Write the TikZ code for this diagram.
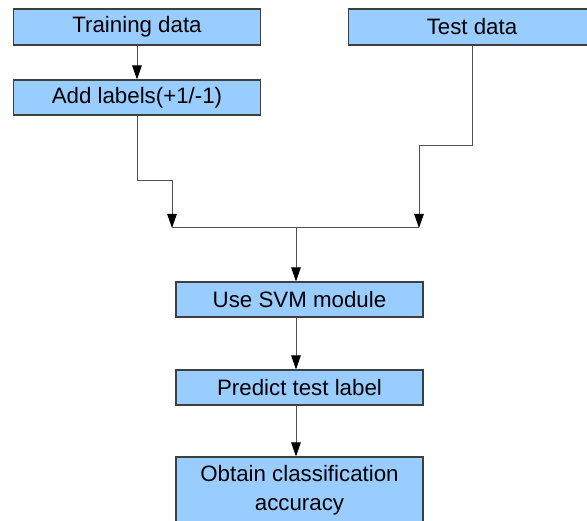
\documentclass[tikz,border=0pt]{standalone}
\usepackage{fontspec}
\setmainfont{Liberation Sans}
\usetikzlibrary{arrows.meta}
\definecolor{boxfill}{HTML}{99CCFF}
\definecolor{boxline}{HTML}{3F3F3F}
\definecolor{wire}{HTML}{505050}
\begin{document}
\begin{tikzpicture}[x=1pt,y=-1pt,
  stepbox/.style={draw=boxline, line width=1.1pt, fill=boxfill,
    minimum width=247pt, inner sep=0pt, align=center,
    font=\fontsize{22.3}{29.5}\selectfont},
  flow/.style={draw=wire, line width=1pt},
  tip/.style={-{Triangle[length=14pt,width=9.5pt,color=black]}}]
\useasboundingbox (0,0) rectangle (587,521);
\clip (0,0) rectangle (587,521);

% process steps
\node[stepbox, minimum height=36pt] (train) at (137,27) {Training data};
\node[stepbox, minimum height=35pt] (label) at (137,97.5) {Add labels(+1/-1)};
\node[stepbox, minimum height=36pt] (test) at (472,27) {Test data};
\node[stepbox, minimum height=35pt] (svm) at (299.5,299.5) {Use SVM module};
\node[stepbox, minimum height=35pt] (pred) at (299.5,387.5) {Predict test label};
\node[stepbox, minimum height=66pt] (acc) at (299.5,490) {Obtain classification\\accuracy};

% junction bar where both data streams meet
\coordinate (jl) at (172,228);
\coordinate (jr) at (419,228);
\coordinate (jm) at (296,228);

\draw[flow,tip] (train) -- (label);
\draw[flow,tip] (label.south) -- ++(0,65) -| (jl);
\draw[flow,tip] (test.south) -- ++(0,100) -| (jr);
\draw[flow] (jl) -- (jr);
\draw[flow,tip] (jm) -- (jm |- svm.north);
\draw[flow,tip] (jm |- svm.south) -- (jm |- pred.north);
\draw[flow,tip] (jm |- pred.south) -- (jm |- acc.north);
\end{tikzpicture}
\end{document}
